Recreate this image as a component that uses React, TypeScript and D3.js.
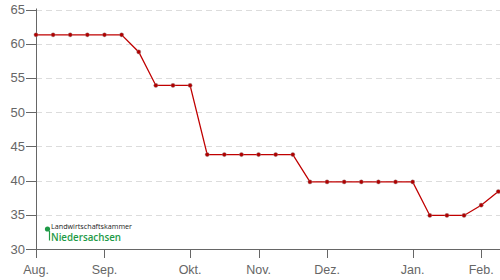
import React from "react";
import * as d3 from "d3";

const values = [61.3, 61.3, 61.3, 61.3, 61.3, 61.3, 58.8, 53.9, 53.9, 53.9, 43.8, 43.8, 43.8, 43.8, 43.8, 43.8, 39.8, 39.8, 39.8, 39.8, 39.8, 39.8, 39.8, 34.9, 34.9, 34.9, 36.4, 38.4];
const monthLabels = ["Aug.", "Sep.", "Okt.", "Nov.", "Dez.", "Jan.", "Feb."];
const monthIndex = [0, 4, 9, 13, 17, 22, 26];
const yTicks = [30, 35, 40, 45, 50, 55, 60, 65];

export default function App() {
  const W = 500, H = 280;
  const left = 36, right = 500, top = 9.5, bottom = 249;
  const x = d3.scaleLinear().domain([0, 27.1]).range([left, right]);
  const y = d3.scaleLinear().domain([30, 65]).range([bottom, top]);
  const line = d3.line<number>().x((_, i) => x(i)).y((d) => y(d));
  const axisColor = "#666";
  const font = "'Liberation Sans', Arial, sans-serif";
  return (
    <svg width={W} height={H} style={{ position: "absolute", left: 0, top: 0, display: "block" }}>
      <rect width={W} height={H} fill="#fff" />
      {yTicks.filter((t) => t > 30).map((t) => (
        <line key={"g" + t} x1={left} x2={right} y1={Math.round(y(t)) + 0.5} y2={Math.round(y(t)) + 0.5} stroke="#dcdcdc" strokeWidth={1} strokeDasharray="6,4" />
      ))}
      <line x1={left + 0.5} x2={left + 0.5} y1={top - 1} y2={bottom} stroke={axisColor} strokeWidth={1} />
      <line x1={left} x2={right} y1={bottom + 0.5} y2={bottom + 0.5} stroke={axisColor} strokeWidth={1} />
      {yTicks.map((t) => (
        <g key={"y" + t}>
          <line x1={left - 10} x2={left} y1={Math.round(y(t)) + 0.5} y2={Math.round(y(t)) + 0.5} stroke={axisColor} />
          <text x={left - 11} y={y(t)} dy="0.35em" textAnchor="end" fontSize={13} fill={axisColor} fontFamily={font}>{t}</text>
        </g>
      ))}
      {monthIndex.map((m, i) => (
        <g key={"x" + i}>
          <line x1={Math.round(x(m)) + 0.5} x2={Math.round(x(m)) + 0.5} y1={bottom} y2={bottom + 9} stroke={axisColor} />
          <text x={x(m)} y={274} textAnchor="middle" fontSize={12.5} fill={axisColor} fontFamily={font}>{monthLabels[i]}</text>
        </g>
      ))}
      <path d={line(values) || ""} fill="none" stroke="#c00000" strokeWidth={1.3} />
      {values.map((v, i) => (
        <circle key={"p" + i} cx={x(i)} cy={y(v)} r={2.1} fill="#b00000" stroke="#999" strokeWidth={0.4} />
      ))}
      <g>
        <circle cx={47.5} cy={229} r={2.6} fill="#1e9a46" />
        <line x1={49.5} x2={49.5} y1={231} y2={240.5} stroke="#1e9a46" strokeWidth={1.2} />
        <text x={51} y={229} fontSize={7.8} fill="#222" fontFamily="'Open Sans', sans-serif" textLength={81} lengthAdjust="spacingAndGlyphs">Landwirtschaftskammer</text>
        <text x={51} y={240.5} fontSize={10.5} fontWeight={600} fill="#1e9a46" fontFamily="'Open Sans', sans-serif" textLength={70} lengthAdjust="spacingAndGlyphs">Niedersachsen</text>
      </g>
    </svg>
  );
}
